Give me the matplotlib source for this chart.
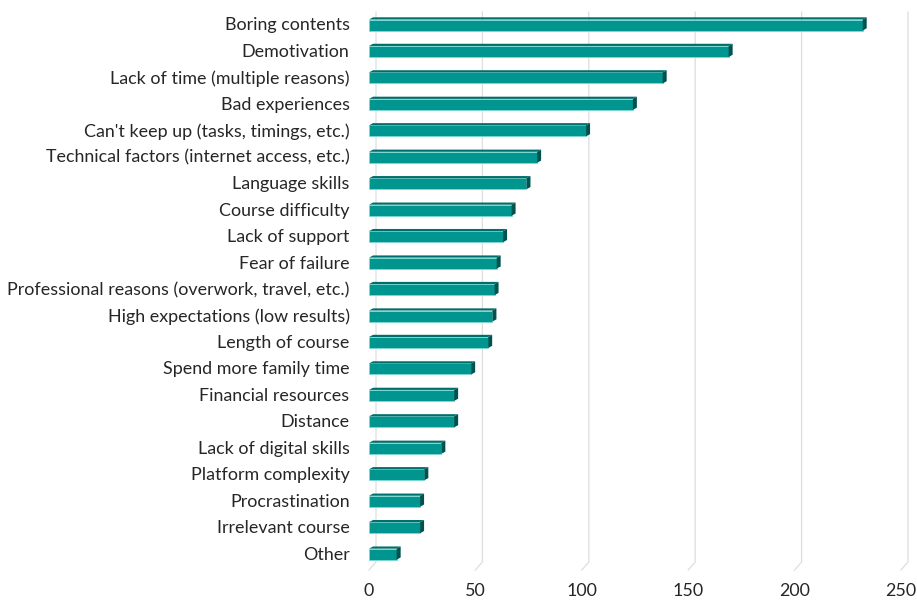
import matplotlib
matplotlib.use("Agg")
import matplotlib.pyplot as plt
from matplotlib.patches import Polygon

reasons = [
    "Boring contents",
    "Demotivation",
    "Lack of time (multiple reasons)",
    "Bad experiences",
    "Can't keep up (tasks, timings, etc.)",
    "Technical factors (internet access, etc.)",
    "Language skills",
    "Course difficulty",
    "Lack of support",
    "Fear of failure",
    "Professional reasons (overwork, travel, etc.)",
    "High expectations (low results)",
    "Length of course",
    "Spend more family time",
    "Financial resources",
    "Distance",
    "Lack of digital skills",
    "Platform complexity",
    "Procrastination",
    "Irrelevant course",
    "Other",
]
counts = [232, 169, 138, 124, 102, 79, 74, 67, 63, 60, 59, 58, 56, 48,
          40, 40, 34, 26, 24, 24, 13]
xticks = [0, 50, 100, 150, 200, 250]

FRONT = "#00968f"
TOP = "#006f6b"
SIDE = "#00524f"
EDGE = "#7cd9d5"
GRID = "#dedede"

plt.rcParams["font.family"] = ["Lato", "DejaVu Sans"]

W, H = 917, 602
fig = plt.figure(figsize=(W / 100, H / 100), dpi=100)
ax = fig.add_axes([369 / W, 1 - 570 / H, 532 / W, 558 / H])

y_top, y_bot = -0.45, 20.64
ax.set_xlim(0, 250)
ax.set_ylim(y_bot, y_top)

# data units per pixel, used for the pseudo-3D depth
ux = 250 / 532
uy = (y_bot - y_top) / 558

# back wall gridlines with a short diagonal on the floor
gdx, gdy = 7 * ux, 8 * uy
for v in xticks:
    ax.plot([v + gdx, v + gdx, v], [y_top, y_bot - gdy, y_bot],
            color=GRID, lw=0.9, zorder=1, clip_on=False)

h = 11 * uy
dx, dy = 4 * ux, 2.2 * uy
ypos = list(range(len(reasons)))
ax.barh([y + 0.5 * dy for y in ypos], counts, height=h, color=FRONT,
        edgecolor=EDGE, linewidth=0.6, zorder=3)
for y, c in zip(ypos, counts):
    y0 = y + 0.5 * dy - h / 2
    ax.add_patch(Polygon([(0, y0), (c, y0), (c + dx, y0 - dy), (dx, y0 - dy)],
                         closed=True, fc=TOP, ec="none", zorder=3))
    ax.add_patch(Polygon([(c, y0), (c, y0 + h), (c + dx, y0 + h - dy),
                          (c + dx, y0 - dy)],
                         closed=True, fc=SIDE, ec="none", zorder=3))

ax.set_yticks(ypos)
ax.set_yticklabels(reasons, fontsize=12.9, color="#262626")
ax.set_xticks(xticks)
ax.set_xticklabels([str(t) for t in xticks], fontsize=12.9, color="#262626")
ax.tick_params(axis="y", length=0, pad=14)
ax.tick_params(axis="x", length=0, pad=9)
for s in ax.spines.values():
    s.set_visible(False)

fig.savefig("out.png", dpi=100, facecolor="white")
